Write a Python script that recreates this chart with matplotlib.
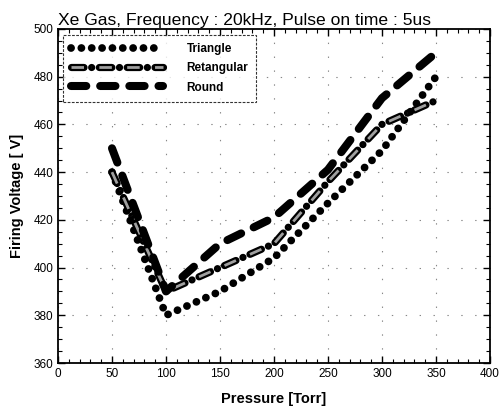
import matplotlib
matplotlib.use("Agg")
import matplotlib.pyplot as plt
from matplotlib.ticker import MultipleLocator
from matplotlib.lines import Line2D
from matplotlib.legend_handler import HandlerTuple

plt.rcParams['font.family'] = ['Liberation Sans', 'DejaVu Sans']
plt.rcParams['lines.scale_dashes'] = False

# data
pressure = [50, 100, 150, 200, 250, 300, 350]
triangle = [440, 380, 390, 404, 427, 449, 480]
retangular = [440, 390, 400, 410, 436, 460, 470]
round_ = [450, 390, 410, 421, 441, 471, 490]

tri_dash = (0.05, 7.4)
ret_dash = (9, 5.5, 0.05, 5.5)
rnd_dash = (11, 10)

fig = plt.figure(figsize=(5.03, 4.2), dpi=100)
ax = fig.add_axes([0.1153, 0.1357, 0.8587, 0.7953])

# Triangle: big round dots
ax.plot(pressure, triangle, color='black', lw=5.6, dashes=tri_dash,
        dash_capstyle='round')

# Retangular: dash-dot, grey core inside black outline
ax.plot(pressure, retangular, color='black', lw=5.2, dashes=ret_dash,
        dash_capstyle='round')
ax.plot(pressure, retangular, color='#a0a0a0', lw=2.0, dashes=ret_dash,
        dash_capstyle='butt')

# Round: long thick dashes
ax.plot(pressure, round_, color='black', lw=5.8, dashes=rnd_dash,
        dash_capstyle='round')

ax.set_xlim(0, 400)
ax.set_ylim(360, 500)
ax.xaxis.set_major_locator(MultipleLocator(50))
ax.xaxis.set_minor_locator(MultipleLocator(10))
ax.yaxis.set_major_locator(MultipleLocator(20))
ax.yaxis.set_minor_locator(MultipleLocator(5))
ax.tick_params(which='both', direction='in', top=True, right=True, labelsize=8.5)
ax.tick_params(which='major', length=5, width=1)
ax.tick_params(which='minor', length=3, width=0.8)
for s in ax.spines.values():
    s.set_linewidth(1.3)

ax.grid(True, which='major', color='#888888', lw=0.8, linestyle=(0, (1, 9)))

ax.set_xlabel('Pressure [Torr]', fontsize=10.5, fontweight='bold', labelpad=9)
ax.set_ylabel('Firing Voltage [ V]', fontsize=10.5, fontweight='bold', labelpad=7)
ax.set_title('Xe Gas, Frequency : 20kHz, Pulse on time : 5us', fontsize=12.6,
             loc='left', pad=3)

# legend built from proxy handles so the two-layer line shows correctly
h_tri = Line2D([], [], color='black', lw=5.6, dashes=tri_dash, dash_capstyle='round')
h_ret = (Line2D([], [], color='black', lw=5.2, dashes=ret_dash, dash_capstyle='round'),
         Line2D([], [], color='#a0a0a0', lw=2.0, dashes=ret_dash, dash_capstyle='butt'))
h_rnd = Line2D([], [], color='black', lw=5.8, dashes=rnd_dash, dash_capstyle='round')
leg = ax.legend([h_tri, h_ret, h_rnd], ['Triangle', 'Retangular', 'Round'],
                handler_map={tuple: HandlerTuple(ndivide=1, pad=0)},
                loc='upper left', bbox_to_anchor=(0.005, 0.99), fancybox=False,
                prop={'weight': 'bold', 'size': 8.5}, handlelength=7.8,
                handletextpad=2.0, labelspacing=0.62, borderpad=0.7,
                borderaxespad=0.2)
leg.get_frame().set_edgecolor('black')
leg.get_frame().set_linewidth(0.8)
leg.get_frame().set_linestyle((0, (2, 1)))

fig.savefig('out.png', dpi=100)
